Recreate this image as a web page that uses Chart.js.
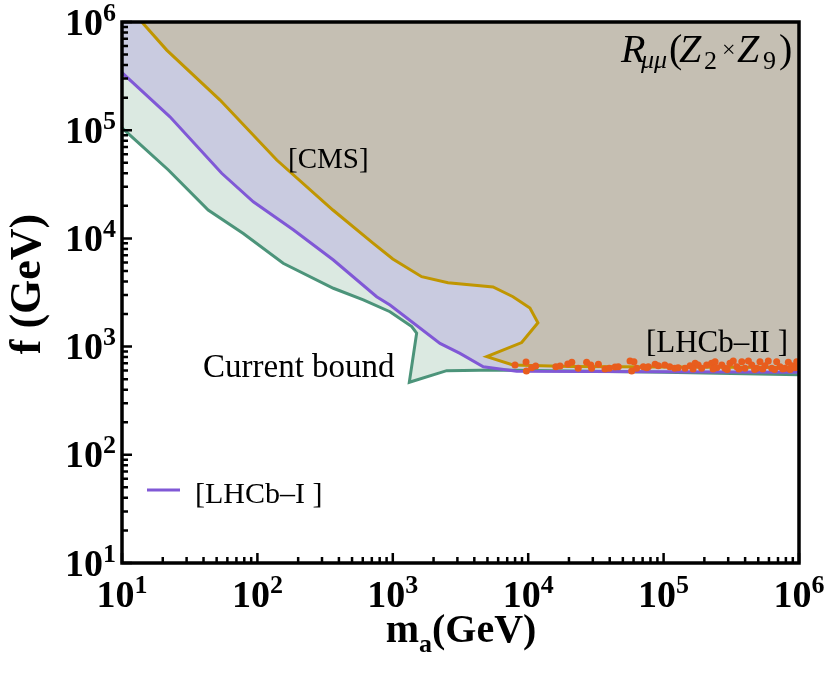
<!DOCTYPE html>
<html>
<head>
<meta charset="utf-8">
<script src="https://cdn.jsdelivr.net/npm/chart.js@4.4.1/dist/chart.umd.min.js"></script>
<style>
  body { margin: 0; background: #ffffff; }
  canvas { display: block; }
</style>
</head>
<body>
<canvas id="chart" width="830" height="674"></canvas>
<script>
// CMS exclusion boundary (m_a, f)
const cmsX = [14, 21.4, 53, 139, 361, 714, 1000, 1633, 2557, 5500, 7720, 10300, 11800, 8950, 4940, 7720, 20000, 100000, 1000000];
const cmsY = [1e6, 5.5e5, 1.9e5, 5.3e4, 1.83e4, 9060, 6450, 4430, 3900, 3560, 2890, 2270, 1660, 1090, 807, 676, 655, 648, 640];

// LHCb-I boundary
const lhcb1X = [10, 22.6, 54.5, 93.3, 184, 364, 760, 953, 2232, 3135, 4660, 8220, 100000, 1000000];
const lhcb1Y = [3.4e5, 1.33e5, 4.0e4, 2.18e4, 1.2e4, 6310, 2890, 2420, 1070, 866, 652, 592, 585, 578];

// current bound
const curX = [10, 22, 43.3, 78.7, 155, 364, 606, 953, 1380, 1500, 1324, 2500, 5850, 100000, 1000000];
const curY = [1.05e5, 4.29e4, 1.83e4, 1.11e4, 5890, 3460, 2700, 2100, 1530, 1330, 468, 599, 608, 580, 550];

// LHCb-II scan points
const lhcb2X = [7990, 9640, 9700, 10600, 11360, 16000, 17200, 19600, 21000, 23400, 27000, 29000, 29400, 33000,
  36900, 39700, 43800, 46300, 56500, 60400, 58100, 63200, 70800, 77100, 75000, 86500, 91400, 102000, 111000,
  121000, 128000, 144000, 157000, 171000, 180000, 191000, 208000, 226000, 240000, 247000, 269000, 284000,
  309000, 327000, 347000, 378000, 399000, 423000, 448000, 488000, 515000, 561000, 593000, 629000, 684000,
  724000, 788000, 834000, 884000, 936000, 962000,
  165000, 232000, 295000, 360000, 470000, 540000, 660000, 760000, 860000, 990000];
const lhcb2Y = [676, 721, 595, 638, 662, 652, 662, 690, 717, 630, 717, 676, 630, 686,
  621, 630, 648, 652, 736, 726, 595, 630, 652, 652, 638, 686, 665, 676, 652,
  630, 638, 630, 665, 702, 676, 630, 676, 702, 726, 638, 676, 630,
  702, 736, 652, 726, 630, 736, 676, 630, 726, 665, 736, 630, 726,
  652, 630, 717, 665, 638, 726,
  621, 621, 615, 621, 615, 621, 615, 621, 615, 700];

// axis ticks
const tickValues = [10, 100, 1000, 10000, 100000, 1000000];
const tickExps = ["1", "2", "3", "4", "5", "6"];

function pts(xs, ys) {
  return xs.map((x, i) => ({ x: x, y: ys[i] }));
}

// regions close along the top edge of the plot
function region(xs, ys) {
  const p = pts(xs, ys);
  p.push({ x: 1e6, y: 1e6 });
  p.push({ x: xs[0], y: 1e6 });
  return p;
}

const serif = "'Liberation Serif', 'Times New Roman', serif";

const decorations = {
  id: "decorations",
  afterDraw(chart) {
    const ctx = chart.ctx;
    const xs = chart.scales.x;
    const ys = chart.scales.y;
    const a = chart.chartArea;
    ctx.save();
    ctx.fillStyle = "#000";
    ctx.strokeStyle = "#000";

    // ticks, inward on left and bottom
    ctx.lineWidth = 2.5;
    ctx.beginPath();
    tickValues.forEach((v) => {
      for (let m = 1; m <= 9; m++) {
        const val = v * m;
        if (val > 1e6) break;
        const len = m === 1 ? 10 : 6;
        const px = xs.getPixelForValue(val);
        const py = ys.getPixelForValue(val);
        ctx.moveTo(px, a.bottom);
        ctx.lineTo(px, a.bottom - len);
        ctx.moveTo(a.left, py);
        ctx.lineTo(a.left + len, py);
      }
    });
    ctx.stroke();

    // frame
    ctx.lineWidth = 3.5;
    ctx.strokeRect(a.left, a.top, a.right - a.left, a.bottom - a.top);

    // tick labels
    const baseFont = "bold 38px " + serif;
    const expFont = "bold 26px " + serif;
    ctx.textBaseline = "alphabetic";
    ctx.textAlign = "left";
    tickValues.forEach((v, i) => {
      ctx.font = baseFont;
      const wb = ctx.measureText("10").width;
      ctx.font = expFont;
      const we = ctx.measureText(tickExps[i]).width;
      // x axis
      const px = xs.getPixelForValue(v);
      const x0 = px - (wb + we) / 2;
      ctx.font = baseFont;
      ctx.fillText("10", x0, 607);
      ctx.font = expFont;
      ctx.fillText(tickExps[i], x0 + wb, 593);
      // y axis
      const py = ys.getPixelForValue(v);
      const y0 = 116 - wb - we;
      ctx.font = baseFont;
      ctx.fillText("10", y0, py + 12.5);
      ctx.font = expFont;
      ctx.fillText(tickExps[i], y0 + wb, py - 1.5);
    });

    // axis titles
    ctx.font = "bold 40px " + serif;
    const wm = ctx.measureText("m").width;
    const wg = ctx.measureText("(GeV)").width;
    ctx.font = "bold 26px " + serif;
    const wa = ctx.measureText("a").width;
    let tx = 461 - (wm + wa + wg) / 2;
    ctx.font = "bold 40px " + serif;
    ctx.fillText("m", tx, 642);
    ctx.font = "bold 26px " + serif;
    ctx.fillText("a", tx + wm, 652);
    ctx.font = "bold 40px " + serif;
    ctx.fillText("(GeV)", tx + wm + wa, 642);

    ctx.save();
    ctx.translate(40, 284);
    ctx.rotate(-Math.PI / 2);
    ctx.textAlign = "center";
    ctx.font = "bold 44px " + serif;
    ctx.fillText("f (GeV)", 0, 0);
    ctx.restore();

    // annotations
    ctx.font = "29px " + serif;
    ctx.fillText("[CMS]", 288, 168);
    ctx.font = "33px " + serif;
    ctx.fillText("Current bound", 203, 377);
    ctx.font = "31px " + serif;
    ctx.textAlign = "right";
    ctx.fillText("[LHCb\u2013II ]", 788, 352);
    ctx.textAlign = "left";
    ctx.font = "30px " + serif;
    ctx.fillText("[LHCb\u2013I ]", 195, 503);

    ctx.strokeStyle = "#8058d6";
    ctx.lineWidth = 3;
    ctx.beginPath();
    ctx.moveTo(147, 490);
    ctx.lineTo(180, 490);
    ctx.stroke();

    // R_mumu (Z2 x Z9)
    ctx.fillStyle = "#000";
    ctx.font = "italic 40px " + serif;
    ctx.fillText("R", 621, 62);
    ctx.font = "italic 26px " + serif;
    ctx.fillText("\u03bc\u03bc", 641, 68);
    ctx.font = "40px " + serif;
    ctx.fillText("(", 669, 62);
    ctx.font = "italic 40px " + serif;
    ctx.fillText("Z", 679, 62);
    ctx.font = "26px " + serif;
    ctx.fillText("2", 704, 69);
    ctx.font = "24px " + serif;
    ctx.fillText("\u00d7", 722, 57);
    ctx.font = "italic 40px " + serif;
    ctx.fillText("Z", 737, 62);
    ctx.font = "26px " + serif;
    ctx.fillText("9", 763, 69);
    ctx.font = "40px " + serif;
    ctx.fillText(")", 779, 62);

    ctx.restore();
  }
};

new Chart(document.getElementById("chart"), {
  type: "scatter",
  data: {
    datasets: [
      {
        label: "LHCb-II",
        data: pts(lhcb2X, lhcb2Y),
        pointRadius: 3.5,
        pointBorderWidth: 0,
        pointBackgroundColor: "#e85d1e",
        showLine: false,
        order: 0,
      },
      {
        label: "CMS line",
        data: pts(cmsX, cmsY),
        showLine: true,
        borderColor: "#c09600",
        borderWidth: 3,
        pointRadius: 0,
        fill: false,
        order: 1,
      },
      {
        label: "LHCb-I line",
        data: pts(lhcb1X, lhcb1Y),
        showLine: true,
        borderColor: "#8058d6",
        borderWidth: 3,
        pointRadius: 0,
        fill: false,
        order: 2,
      },
      {
        label: "Current bound line",
        data: pts(curX, curY),
        showLine: true,
        borderColor: "#4c947a",
        borderWidth: 3,
        pointRadius: 0,
        fill: false,
        order: 3,
      },
      {
        label: "CMS region",
        data: region(cmsX, cmsY),
        showLine: true,
        borderWidth: 0,
        borderColor: "rgba(0,0,0,0)",
        backgroundColor: "#c5bfb3",
        pointRadius: 0,
        fill: "shape",
        order: 4,
      },
      {
        label: "LHCb-I region",
        data: region(lhcb1X, lhcb1Y),
        showLine: true,
        borderWidth: 0,
        borderColor: "rgba(0,0,0,0)",
        backgroundColor: "#c9cbe0",
        pointRadius: 0,
        fill: "shape",
        order: 5,
      },
      {
        label: "Current region",
        data: region(curX, curY),
        showLine: true,
        borderWidth: 0,
        borderColor: "rgba(0,0,0,0)",
        backgroundColor: "#dbe9e1",
        pointRadius: 0,
        fill: "shape",
        order: 6,
      },
    ],
  },
  options: {
    responsive: false,
    animation: false,
    layout: { padding: { left: 122, right: 31, top: 22, bottom: 111 } },
    plugins: {
      legend: { display: false },
      tooltip: { enabled: false },
    },
    scales: {
      x: { type: "logarithmic", min: 10, max: 1e6, display: false },
      y: { type: "logarithmic", min: 10, max: 1e6, display: false },
    },
  },
  plugins: [decorations],
});
</script>
</body>
</html>
